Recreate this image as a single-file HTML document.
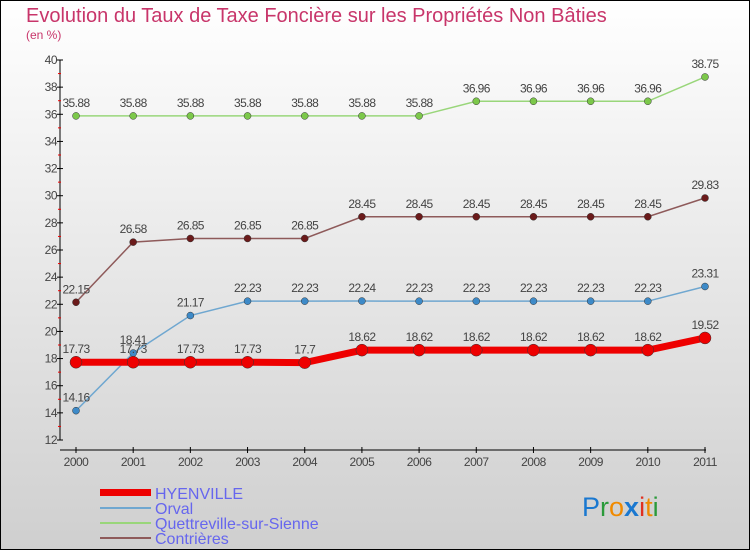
<!DOCTYPE html>
<html><head><meta charset="utf-8"><style>
body{margin:0;width:750px;height:550px;overflow:hidden}
svg{display:block;font-family:"Liberation Sans","DejaVu Sans",sans-serif}
</style></head><body>
<svg id="c" width="750" height="550" viewBox="0 0 750 550">
<defs><linearGradient id="bg" x1="0" y1="0" x2="0" y2="1"><stop offset="0" stop-color="#ffffff"/><stop offset="1" stop-color="#cfcfcf"/></linearGradient></defs>
<rect x="0.5" y="0.5" width="749" height="549" fill="url(#bg)" stroke="#000"/>
<text x="26" y="22" font-size="20" fill="#c8356a">Evolution du Taux de Taxe Foncière sur les Propriétés Non Bâties</text>
<text x="26" y="39" font-size="12" fill="#c8356a">(en %)</text>
<g id="axes"></g><g id="series"></g>
<g>
<rect x="100" y="489" width="51" height="7" fill="#ee0000"/>
<text x="155" y="499" font-size="16" fill="#6666ee">HYENVILLE</text>
<line x1="100" y1="508" x2="151" y2="508" stroke="#6fa7d0" stroke-width="2"/>
<text x="155" y="514" font-size="16" fill="#6666ee">Orval</text>
<line x1="100" y1="523" x2="151" y2="523" stroke="#99d67a" stroke-width="2"/>
<text x="155" y="529" font-size="16" fill="#6666ee">Quettreville-sur-Sienne</text>
<line x1="100" y1="538" x2="151" y2="538" stroke="#8e5a5a" stroke-width="2"/>
<text x="155" y="544" font-size="16" fill="#6666ee">Contrières</text>
</g>
<text x="582" y="516" font-size="27"><tspan fill="#1a78d0">P</tspan><tspan fill="#2a9a3a">r</tspan><tspan fill="#f08a00">o</tspan><tspan fill="#1a78d0" font-weight="bold">x</tspan><tspan fill="#e03020">i</tspan><tspan fill="#f08a00">t</tspan><tspan fill="#2a9a3a">i</tspan></text>
</svg>
<script>
const years=["2000","2001","2002","2003","2004","2005","2006","2007","2008","2009","2010","2011"];
const hyenville=[17.73,17.73,17.73,17.73,17.7,18.62,18.62,18.62,18.62,18.62,18.62,19.52];
const orval=[14.16,18.41,21.17,22.23,22.23,22.24,22.23,22.23,22.23,22.23,22.23,23.31];
const quettreville=[35.88,35.88,35.88,35.88,35.88,35.88,35.88,36.96,36.96,36.96,36.96,38.75];
const contrieres=[22.15,26.58,26.85,26.85,26.85,28.45,28.45,28.45,28.45,28.45,28.45,29.83];
const yTicks=[12,14,16,18,20,22,24,26,28,30,32,34,36,38,40];
const NS="http://www.w3.org/2000/svg";
const X=i=>76+i*(705-76)/(years.length-1);
const Y=v=>440-(v-12)*(380/28);
function mk(t,a,p){const e=document.createElementNS(NS,t);for(const k in a)e.setAttribute(k,a[k]);p.appendChild(e);return e;}
const ax=document.getElementById('axes');
let l=mk('line',{x1:60,y1:60,x2:60,y2:440,stroke:'#000'},ax);


l=mk('line',{x1:60,y1:450,x2:706,y2:450,stroke:'#000'},ax);


yTicks.forEach(v=>{
 mk('line',{x1:57,y1:Y(v),x2:63,y2:Y(v),stroke:'#000'},ax);
 if(v<40)mk('line',{x1:58,y1:Y(v+1),x2:61,y2:Y(v+1),stroke:'#e00'},ax);
 const t=mk('text',{x:57,y:Y(v)+4,'font-size':12,fill:'#444','text-anchor':'end','letter-spacing':'-0.5'},ax);t.textContent=v;
 
 
});
years.forEach((y,i)=>{
 mk('line',{x1:X(i),y1:447,x2:X(i),y2:453,stroke:'#000'},ax);
 const t=mk('text',{x:X(i),y:466,'font-size':12,fill:'#444','text-anchor':'middle','letter-spacing':'-0.5'},ax);t.textContent=y;
 
 
});
const sg=document.getElementById('series');
function draw(vals,color,w,r,dot,name){
 const g=mk('g',{},sg);
 
 
 const p=mk('polyline',{points:vals.map((v,i)=>X(i)+','+Y(v)).join(' '),fill:'none',stroke:color,'stroke-width':w},g);
 
 
 vals.forEach((v,i)=>{
  const c=mk('circle',{cx:X(i),cy:Y(v),r:r,fill:dot,stroke:'#333','stroke-width':0.5},g);
  
  
  const t=mk('text',{x:X(i),y:Y(v)-9,'font-size':12,fill:'#444','text-anchor':'middle','letter-spacing':'-0.6'},g);t.textContent=v;
  
  
 });
}
draw(quettreville,'#99d67a',1.5,3.5,'#7cc84a','quettreville');
draw(contrieres,'#8e5a5a',1.5,3.5,'#6b1a1a','contrieres');
draw(orval,'#6fa7d0',1.5,3.5,'#3d8ac8','orval');
draw(hyenville,'#ee0000',7,6,'#ee0000','hyenville');
</script>
</body></html>
